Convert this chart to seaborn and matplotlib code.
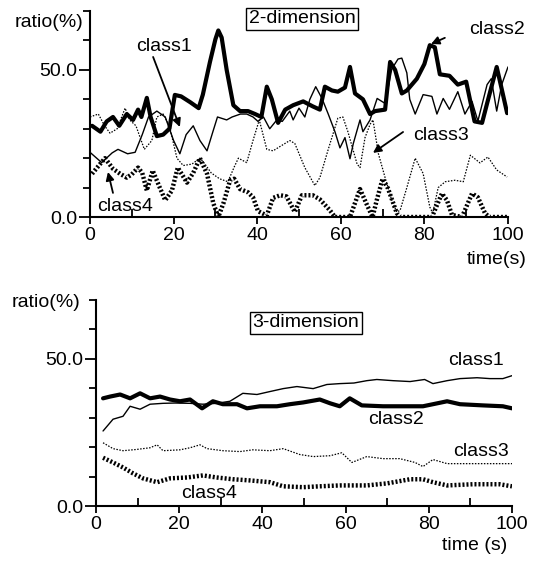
import numpy as np
import pandas as pd
import seaborn as sns
import matplotlib.pyplot as plt
from matplotlib.ticker import MultipleLocator, FixedLocator

# ---- 2-dimension panel ----
t2_c1 = [0, 2.8, 5.3, 6.7, 9, 10.8, 12.5, 14, 16, 18, 20, 21.5, 23, 24.7, 26.3, 28, 29.4, 30.5, 32.7, 34,
         36, 37.5, 39, 40.2, 41.5, 43, 44.7, 46, 47.8, 48.6, 50, 51.4, 52.6, 54, 55.5, 57, 58.6, 59.8, 61,
         62.2, 63, 64.6, 65.3, 67, 68.7, 70.6, 72.2, 73.7, 74.6, 75.8, 76.5, 77.8, 79.7, 81.8, 83, 84.5, 86,
         88, 89.7, 91.4, 92.8, 95, 96, 97.3, 98.5, 100]
y2_c1 = [22, 18.5, 21.8, 23, 21.5, 22, 28, 34, 36, 34, 26, 21.5, 28, 31, 26, 22.5, 29, 34, 33, 34,
         35, 35, 34, 32.5, 34, 30, 33, 32.5, 36, 33, 37, 34, 40, 44.3, 40.3, 35, 29, 23.5, 27,
         19.8, 25, 33, 29, 33, 40.3, 38.6, 50.3, 53.7, 54, 49, 40, 35, 41.6, 41, 35, 40.3, 36.6,
         42.6, 35, 39.3, 32.6, 45, 47, 36, 45, 51]

t2_c2 = [0.5, 2.5, 4, 5.5, 7, 8.8, 10.3, 11.5, 12.3, 13.6, 14.5, 16, 17.5, 19, 20.3, 21.8, 24, 26, 27, 28.7,
         30, 30.7, 31.5, 32.7, 34.3, 35.9, 37.8, 39.5, 41, 42.3, 43.5, 45, 46.7, 48.6, 51, 53.3, 55, 56.2,
         57.9, 59.3, 61, 62.2, 63.4, 65.3, 67, 68.2, 70.6, 71.8, 73, 74.6, 75.8, 78.2, 80, 81.3, 82.5, 83.7,
         86, 88, 90, 92, 93.8, 95, 97.3, 98.5, 99.8]
y2_c2 = [31, 29, 32.5, 34, 31, 35, 33, 36.5, 34, 40.5, 34, 27.5, 28, 30, 41.5, 41, 39, 37, 41.6, 52.7,
         60.4, 63.4, 61, 50, 38, 36, 36, 35, 34, 44.3, 40, 32, 36.5, 38, 39.3, 37.6, 36.5, 44.3,
         43, 42.6, 44, 51, 42, 40, 35, 36, 36.5, 52.7, 50, 42, 43, 47, 52, 58.4, 57.7, 48.5,
         48, 45, 46, 32.5, 32, 38.6, 51, 43.5, 35.3]

t2_c3 = [0, 2, 3.5, 4.8, 6.5, 8.4, 9.5, 11, 13, 14.8, 16, 17.5, 19, 20.8, 22.3, 24.4, 26.3, 27.5, 29, 31,
         33, 34.5, 35.5, 37.5, 39, 40.5, 42.3, 43.8, 45.5, 47.8, 49, 51.4, 53.8, 55, 57, 59.3, 60.5, 61.7,
         63.9, 64.6, 65.8, 67, 67.7, 69, 70.6, 72.2, 73.4, 74.2, 75.8, 77.8, 79.7, 81.3, 82, 83.3, 85,
         87.3, 89.3, 91, 93.3, 95.2, 97.3, 99.8]
y2_c3 = [34, 35, 31, 28.5, 30, 37, 33, 31, 23, 26, 34, 35, 31, 20, 17.5, 18, 20, 18, 15, 13,
         12, 17, 20, 18.5, 26, 33, 23, 22.5, 24, 26, 25, 16.8, 10.7, 13.4, 23, 33.6, 34, 29,
         18, 16.8, 27, 31.5, 33, 21.5, 13.4, 5.7, 1.7, 2.3, 10, 20, 14.8, 3.4, 1.3, 10, 12,
         12.5, 12, 21, 18.4, 20.4, 16, 13.6]

t2_c4 = [0.5, 2.4, 3.6, 5.5, 7.2, 8.8, 10, 11.5, 12.5, 13.6, 15, 16.7, 18, 19.6, 21, 23.2, 24.7, 26.3, 28,
         29.5, 30.7, 32, 33.5, 34.5, 35.9, 37.8, 39, 40.2, 42.3, 43.8, 45.5, 47, 49, 50.7, 53.3, 55, 57.4,
         58.6, 62.2, 64.6, 66.3, 67.6, 68.6, 70, 71.3, 73.4, 74.3, 81.8, 84.2, 85.4, 86.6, 89, 91.4, 92.8,
         94.5, 95.5, 100]
y2_c4 = [14.7, 18, 20, 16.4, 14.7, 13.4, 14.5, 16.8, 15, 9, 15.8, 10, 5.7, 9, 16.8, 11.7, 15, 20, 14.7,
         4.7, 0, 5, 12.4, 13, 9.5, 8.4, 6.7, 2, 0.5, 6.5, 7.4, 7, 1.7, 7.4, 7.4, 6, 2.3,
         0, 0, 9.5, 4, 0, 5.7, 13, 9.7, 1.3, 0, 0, 8, 5.7, 0.7, 0, 8, 6.7,
         1.3, 0, 0]

# ---- 3-dimension panel ----
t3_c1 = [1.7, 4.1, 6.5, 8.2, 10.6, 13, 16.1, 19, 22.6, 25.7, 29, 32.2, 35.3, 38.7, 41.8, 45, 48.3, 52.2,
         55.5, 58.6, 62, 65.1, 67.5, 71.4, 75.5, 79, 81, 84.4, 87.5, 91.6, 94.7, 97.8, 100]
y3_c1 = [25.5, 29.5, 30.5, 33.9, 32.9, 34.6, 34.9, 35, 34.9, 34.6, 34.9, 35.6, 38.3, 37.9, 38.9, 39.9, 40.6, 39.9,
         41.3, 41.6, 41.8, 42.6, 43, 42.6, 42.3, 43, 41.6, 42.6, 43.3, 43.6, 43.3, 43.3, 44.3]

t3_c2 = [1.7, 3.4, 5.8, 8.2, 10.6, 13, 15.4, 17.8, 20.2, 22.6, 25.5, 28.1, 30.5, 33.9, 36.3, 39.4, 43.5,
         46.6, 49.8, 53.8, 56.3, 58.6, 61, 63.9, 69, 73, 78.6, 81, 84.4, 87.5, 93, 97.8, 100]
y3_c2 = [36.6, 37.2, 37.9, 36.6, 38.3, 36.6, 37.2, 36.2, 35.6, 36.2, 33.2, 35.6, 34.6, 34.6, 33.2, 33.9, 33.9,
         34.6, 35.2, 36.2, 34.9, 33.9, 36.6, 34.2, 33.9, 33.9, 33.9, 34.6, 35.6, 34.6, 34.2, 33.9, 33.2]

t3_c3 = [1.7, 4.1, 6.5, 9.6, 13, 14.7, 16.1, 20.2, 22.6, 25, 26.7, 30.5, 34.6, 37.7, 41.8, 45, 49, 52.2,
         56.3, 59.1, 61.5, 65.1, 69, 73, 76.7, 78.6, 81, 84.4, 89.2, 95.4, 100]
y3_c3 = [21.5, 19.5, 18.8, 19.2, 19.8, 20.8, 18.8, 19.1, 19.8, 20.8, 19.5, 18.8, 18.5, 19.1, 18.8, 19.5, 17.5, 16.8,
         17.1, 18.1, 14.8, 16.8, 16.1, 16.1, 14.8, 13.4, 15.8, 14.4, 14.4, 14.4, 14.4]

t3_c4 = [1.7, 4.1, 6.5, 8.9, 11.3, 14.7, 17.8, 21.9, 25.7, 29, 32.9, 37, 41.8, 45, 49.8, 53.8, 58.6,
         65.1, 70, 75.5, 78.6, 81, 84.4, 90.6, 97, 100]
y3_c4 = [16.4, 14.8, 13.1, 11.1, 9.4, 8.1, 9.4, 9.7, 10.4, 9.7, 9.1, 8.7, 8.1, 6.7, 6.4, 6.7, 7,
         7, 7.7, 9.1, 9.1, 8.1, 7, 7.4, 7.4, 6.7]

classes = ["class1", "class2", "class3", "class4"]
styles = {
    "class1": dict(lw=1.0, ls="-"),
    "class2": dict(lw=3.0, ls="-"),
    "class3": dict(lw=0.9, ls=(0, (1.2, 1.2))),
    "class4": dict(lw=3.2, ls=(0, (0.45, 0.45))),
}

sns.set_style("ticks")
plt.rcParams["font.family"] = ["Liberation Sans", "DejaVu Sans"]
plt.rcParams.update({"text.color": "black", "axes.edgecolor": "black", "axes.labelcolor": "black",
                     "xtick.color": "black", "ytick.color": "black"})

fig = plt.figure(figsize=(5.35, 5.64), dpi=100)
ax_top = fig.add_axes([0.1682, 0.6152, 0.7813, 0.3652])
ax_bot = fig.add_axes([0.1794, 0.1028, 0.7776, 0.3652])


def draw(ax, series):
    for name, (t, y) in zip(classes, series):
        df = pd.DataFrame({"time": t, "ratio": y})
        st = styles[name]
        sns.lineplot(data=df, x="time", y="ratio", ax=ax, color="black", lw=st["lw"],
                     linestyle=st["ls"], estimator=None, sort=False)
    ax.set_xlim(0, 100)
    ax.set_ylim(0, 70)
    ax.set_xlabel("")
    ax.set_ylabel("")
    ax.xaxis.set_major_locator(MultipleLocator(20))
    ax.xaxis.set_minor_locator(FixedLocator([10, 30, 50, 70, 90]))
    ax.yaxis.set_major_locator(FixedLocator([0, 50]))
    ax.yaxis.set_minor_locator(MultipleLocator(10))
    ax.set_yticklabels(["0.0", "50.0"])
    ax.tick_params(axis="x", which="major", direction="out", length=5, width=1.3, labelsize=14, pad=2)
    ax.tick_params(axis="x", which="minor", direction="in", length=6, width=1.3)
    ax.tick_params(axis="y", which="major", direction="out", length=8, width=1.3, labelsize=14, pad=1)
    ax.tick_params(axis="y", which="minor", direction="out", length=5, width=1.3)
    for s in ["top", "right"]:
        ax.spines[s].set_visible(False)
    for s in ["left", "bottom"]:
        ax.spines[s].set_linewidth(1.5)
    ax.set_facecolor("white")


draw(ax_top, [(t2_c1, y2_c1), (t2_c2, y2_c2), (t2_c3, y2_c3), (t2_c4, y2_c4)])
draw(ax_bot, [(t3_c1, y3_c1), (t3_c2, y3_c2), (t3_c3, y3_c3), (t3_c4, y3_c4)])

box = dict(boxstyle="square,pad=0.15", fc="white", ec="black", lw=1)
arrow = dict(arrowstyle="-|>", color="black", lw=1.3, mutation_scale=12, shrinkA=0, shrinkB=0)

# top panel texts
ax_top.text(50.7, 67.3, "2-dimension", ha="center", va="center", fontsize=14, bbox=box, clip_on=False)
ax_top.text(-9.8, 66, "ratio(%)", ha="center", va="center", fontsize=14, clip_on=False)
ax_top.text(97.4, -14.5, "time(s)", ha="center", va="center", fontsize=14, clip_on=False)
ax_top.text(17.7, 57.8, "class1", ha="center", va="center", fontsize=14)
ax_top.text(97.4, 63.9, "class2", ha="center", va="center", fontsize=14, clip_on=False)
ax_top.text(84, 27.6, "class3", ha="center", va="center", fontsize=14)
ax_top.text(8.4, 3.7, "class4", ha="center", va="center", fontsize=14)
ax_top.annotate("", xy=(21.5, 30.6), xytext=(15.1, 54.4), arrowprops=arrow)
ax_top.annotate("", xy=(81.6, 58.8), xytext=(84.9, 60.9), arrowprops=arrow)
ax_top.annotate("", xy=(67.7, 21.8), xytext=(74.9, 28.9), arrowprops=arrow)
ax_top.annotate("", xy=(4.3, 15.3), xytext=(5.5, 8.2), arrowprops=arrow)

# bottom panel texts
ax_bot.text(50.5, 62.2, "3-dimension", ha="center", va="center", fontsize=14, bbox=box, clip_on=False)
ax_bot.text(-12, 69, "ratio(%)", ha="center", va="center", fontsize=14, clip_on=False)
ax_bot.text(90.9, -13.3, "time (s)", ha="center", va="center", fontsize=14, clip_on=False)
ax_bot.text(91.3, 49.3, "class1", ha="center", va="center", fontsize=14)
ax_bot.text(72.1, 29.3, "class2", ha="center", va="center", fontsize=14)
ax_bot.text(92.5, 18.4, "class3", ha="center", va="center", fontsize=14)
ax_bot.text(27.2, 4.1, "class4", ha="center", va="center", fontsize=14)

fig.savefig("out.png", dpi=100, facecolor="white")
